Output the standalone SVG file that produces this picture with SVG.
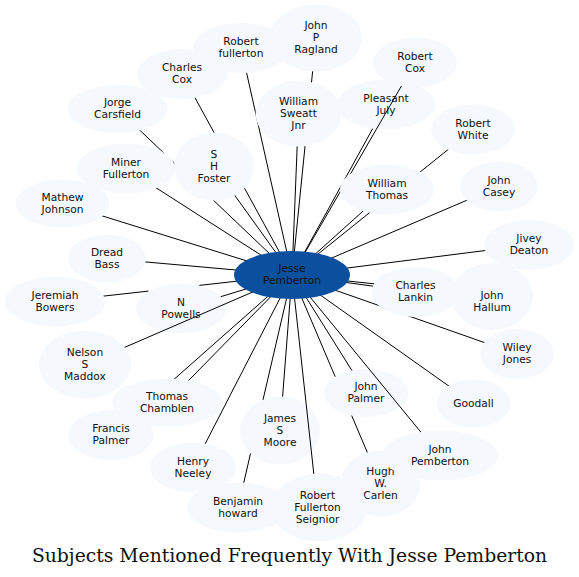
<svg xmlns="http://www.w3.org/2000/svg" width="579" height="577" viewBox="0 0 579 577">
<style>
.n ellipse{fill:#f5f9fe;stroke:none}
.n text{font-family:"DejaVu Sans",sans-serif;font-size:10.67px;fill:#111;text-anchor:middle}
#center ellipse{fill:#0b509e}
#edges line{stroke:#000;stroke-width:1}
.title{font-family:"DejaVu Serif",serif;font-size:18.75px;fill:#111;text-anchor:middle}
</style>
<rect width="579" height="577" fill="#fff"/>
<g id="n_n_powells" class="n"><ellipse cx="181" cy="308.5" rx="45" ry="25"/><text x="181" y="305.9">N</text><text x="181" y="317.9">Powells</text></g>
<g id="n_pleasant_july" class="n"><ellipse cx="386" cy="104.5" rx="49" ry="25"/><text x="386" y="101.9">Pleasant</text><text x="386" y="113.9">July</text></g>
<g id="n_john_palmer" class="n"><ellipse cx="366" cy="393" rx="42" ry="24"/><text x="366" y="390.4">John</text><text x="366" y="402.4">Palmer</text></g>
<g id="n_james_moore" class="n"><ellipse cx="280" cy="430.5" rx="40" ry="34"/><text x="280" y="421.9">James</text><text x="280" y="433.9">S</text><text x="280" y="445.9">Moore</text></g>
<g id="edges">
<line x1="292" y1="275" x2="241" y2="48"/>
<line x1="292" y1="275" x2="182" y2="74"/>
<line x1="292" y1="275" x2="117.5" y2="109"/>
<line x1="292" y1="275" x2="214" y2="166.5"/>
<line x1="292" y1="275" x2="126" y2="168.5"/>
<line x1="292" y1="275" x2="62.5" y2="203.5"/>
<line x1="292" y1="275" x2="107" y2="258.5"/>
<line x1="55" y1="301.5" x2="148.4" y2="291.1"/>
<line x1="199.3" y1="285.4" x2="292" y2="275"/>
<line x1="292" y1="275" x2="220.7" y2="296.7"/>
<line x1="292" y1="275" x2="85" y2="364.5"/>
<line x1="292" y1="275" x2="167" y2="402.5"/>
<line x1="292" y1="275" x2="111" y2="435"/>
<line x1="292" y1="275" x2="193" y2="467.5"/>
<line x1="238" y1="507.5" x2="250.5" y2="453.6"/>
<line x1="263" y1="399.8" x2="292" y2="275"/>
<line x1="292" y1="275" x2="282.6" y2="396.6"/>
<line x1="292" y1="275" x2="317.5" y2="507.5"/>
<line x1="380.5" y1="483.5" x2="351.7" y2="415.6"/>
<line x1="335.2" y1="376.7" x2="292" y2="275"/>
<line x1="292" y1="275" x2="440" y2="455.5"/>
<line x1="292" y1="275" x2="351.9" y2="370.5"/>
<line x1="292" y1="275" x2="473.5" y2="403.5"/>
<line x1="292" y1="275" x2="517" y2="354"/>
<line x1="292" y1="275" x2="492" y2="296.5"/>
<line x1="292" y1="275" x2="415.5" y2="292"/>
<line x1="292" y1="275" x2="529" y2="245"/>
<line x1="292" y1="275" x2="499" y2="186.5"/>
<line x1="292" y1="275" x2="387" y2="189.5"/>
<line x1="292" y1="275" x2="473" y2="129.5"/>
<line x1="292" y1="275" x2="372.7" y2="128.6"/>
<line x1="292" y1="275" x2="415" y2="62.5"/>
<line x1="292" y1="275" x2="316" y2="38"/>
<line x1="292" y1="275" x2="298.5" y2="113.5"/>
</g>
<g id="n_robert_fullerton" class="n"><ellipse cx="241" cy="48" rx="48" ry="25"/><text x="241" y="45.4">Robert</text><text x="241" y="57.4">fullerton</text></g>
<g id="n_charles_cox" class="n"><ellipse cx="182" cy="74" rx="45" ry="25"/><text x="182" y="71.4">Charles</text><text x="182" y="83.4">Cox</text></g>
<g id="n_jorge_carsfield" class="n"><ellipse cx="117.5" cy="109" rx="50" ry="24"/><text x="117.5" y="106.4">Jorge</text><text x="117.5" y="118.4">Carsfield</text></g>
<g id="n_miner_fullerton" class="n"><ellipse cx="126" cy="168.5" rx="49" ry="25"/><text x="126" y="165.9">Miner</text><text x="126" y="177.9">Fullerton</text></g>
<g id="n_sh_foster" class="n"><ellipse cx="214" cy="166.5" rx="40" ry="34"/><text x="214" y="157.9">S</text><text x="214" y="169.9">H</text><text x="214" y="181.9">Foster</text></g>
<g id="n_mathew_johnson" class="n"><ellipse cx="62.5" cy="203.5" rx="47" ry="24"/><text x="62.5" y="200.9">Mathew</text><text x="62.5" y="212.9">Johnson</text></g>
<g id="n_dread_bass" class="n"><ellipse cx="107" cy="258.5" rx="39" ry="24"/><text x="107" y="255.9">Dread</text><text x="107" y="267.9">Bass</text></g>
<g id="n_jeremiah_bowers" class="n"><ellipse cx="55" cy="301.5" rx="50" ry="25"/><text x="55" y="298.9">Jeremiah</text><text x="55" y="310.9">Bowers</text></g>
<g id="n_nelson_maddox" class="n"><ellipse cx="85" cy="364.5" rx="46" ry="34"/><text x="85" y="355.9">Nelson</text><text x="85" y="367.9">S</text><text x="85" y="379.9">Maddox</text></g>
<g id="n_thomas_chamblen" class="n"><ellipse cx="167" cy="402.5" rx="55" ry="24"/><text x="167" y="399.9">Thomas</text><text x="167" y="411.9">Chamblen</text></g>
<g id="n_francis_palmer" class="n"><ellipse cx="111" cy="435" rx="43" ry="25"/><text x="111" y="432.4">Francis</text><text x="111" y="444.4">Palmer</text></g>
<g id="n_henry_neeley" class="n"><ellipse cx="193" cy="467.5" rx="43" ry="25"/><text x="193" y="464.9">Henry</text><text x="193" y="476.9">Neeley</text></g>
<g id="n_benjamin_howard" class="n"><ellipse cx="238" cy="507.5" rx="51" ry="25"/><text x="238" y="504.9">Benjamin</text><text x="238" y="516.9">howard</text></g>
<g id="n_hugh_carlen" class="n"><ellipse cx="380.5" cy="483.5" rx="40" ry="33"/><text x="380.5" y="474.9">Hugh</text><text x="380.5" y="486.9">W.</text><text x="380.5" y="498.9">Carlen</text></g>
<g id="n_robert_fullerton_seignior" class="n"><ellipse cx="319" cy="507.5" rx="48" ry="34"/><text x="317.5" y="498.9">Robert</text><text x="317.5" y="510.9">Fullerton</text><text x="317.5" y="522.9">Seignior</text></g>
<g id="n_john_pemberton" class="n"><ellipse cx="440" cy="455.5" rx="58" ry="25"/><text x="440" y="452.9">John</text><text x="440" y="464.9">Pemberton</text></g>
<g id="n_goodall" class="n"><ellipse cx="473.5" cy="403.5" rx="37" ry="24"/><text x="473.5" y="406.9">Goodall</text></g>
<g id="n_wiley_jones" class="n"><ellipse cx="517" cy="354" rx="37" ry="25"/><text x="517" y="351.4">Wiley</text><text x="517" y="363.4">Jones</text></g>
<g id="n_john_hallum" class="n"><ellipse cx="492" cy="296.5" rx="41" ry="33.5"/><text x="492" y="299">John</text><text x="492" y="311">Hallum</text></g>
<g id="n_charles_lankin" class="n"><ellipse cx="415.5" cy="292" rx="44" ry="25"/><text x="415.5" y="289.4">Charles</text><text x="415.5" y="301.4">Lankin</text></g>
<g id="n_jivey_deaton" class="n"><ellipse cx="529" cy="245" rx="45" ry="25"/><text x="529" y="242.4">Jivey</text><text x="529" y="254.4">Deaton</text></g>
<g id="n_john_casey" class="n"><ellipse cx="499" cy="186.5" rx="39" ry="25"/><text x="499" y="183.9">John</text><text x="499" y="195.9">Casey</text></g>
<g id="n_william_thomas" class="n"><ellipse cx="387" cy="189.5" rx="47" ry="25"/><text x="387" y="186.9">William</text><text x="387" y="198.9">Thomas</text></g>
<g id="n_robert_white" class="n"><ellipse cx="473" cy="129.5" rx="42" ry="25"/><text x="473" y="126.9">Robert</text><text x="473" y="138.9">White</text></g>
<g id="n_robert_cox" class="n"><ellipse cx="415" cy="62.5" rx="42" ry="25"/><text x="415" y="59.9">Robert</text><text x="415" y="71.9">Cox</text></g>
<g id="n_john_ragland" class="n"><ellipse cx="316" cy="38" rx="46" ry="33.5"/><text x="316" y="29.4">John</text><text x="316" y="41.4">P</text><text x="316" y="53.4">Ragland</text></g>
<g id="n_william_sweatt" class="n"><ellipse cx="298.5" cy="113.5" rx="43" ry="33"/><text x="298.5" y="104.9">William</text><text x="298.5" y="116.9">Sweatt</text><text x="298.5" y="128.9">Jnr</text></g>
<g id="center" class="n"><ellipse cx="292" cy="275" rx="58" ry="24"/><text x="292" y="272">Jesse</text><text x="292" y="284">Pemberton</text></g>
<text class="title" x="289.5" y="562">Subjects Mentioned Frequently With Jesse Pemberton</text>
</svg>
